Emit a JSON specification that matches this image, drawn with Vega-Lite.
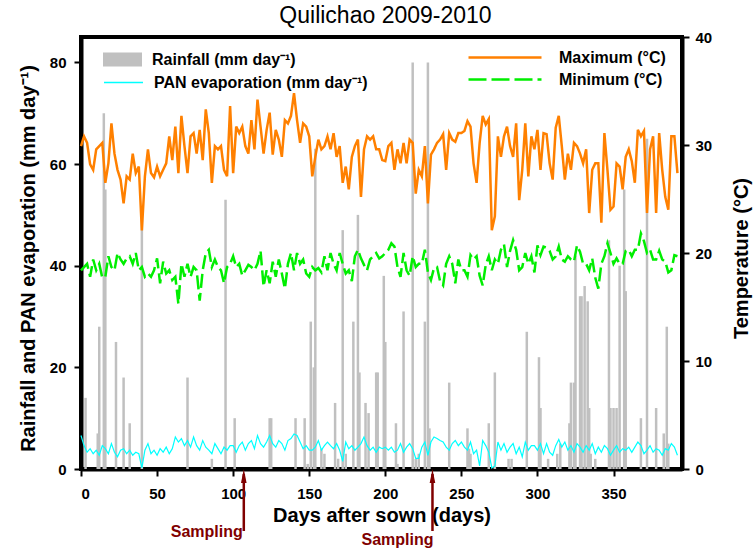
{
  "$schema": "https://vega.github.io/schema/vega-lite/v6.json",
  "width": 601,
  "height": 432,
  "autosize": {"type": "none"},
  "padding": {"left": 81, "top": 37, "right": 74, "bottom": 81},
  "background": "white",
  "title": {"text": "Quilichao 2009-2010", "fontSize": 23, "fontWeight": "normal", "color": "black", "anchor": "middle", "offset": 2, "dx": 4, "font": "Liberation Sans"},
  "config": {
    "font": "Liberation Sans",
    "view": {"stroke": "black", "strokeWidth": 4},
    "axis": {"grid": false, "domainColor": "black", "domainWidth": 4, "tickColor": "black", "tickWidth": 2, "tickSize": 7, "labelColor": "black", "labelFontSize": 15, "labelFontWeight": "bold", "titleColor": "black", "titleFontSize": 20, "titleFontWeight": "bold"}
  },
  "datasets": {
    "daily": [
      {"day":0,"tmax":29.9,"tmin":18.4,"pan":6.6},{"day":2,"tmax":30.8,"tmin":18.7,"pan":4.6},{"day":4,"tmax":30.2,"tmin":19.0,"pan":3.3},{"day":6,"tmax":28.2,"tmin":17.8,"pan":4.0},{"day":8,"tmax":27.7,"tmin":19.4,"pan":3.0},{"day":10,"tmax":29.6,"tmin":18.4,"pan":3.7},{"day":12,"tmax":29.9,"tmin":19.0,"pan":2.7},{"day":14,"tmax":30.2,"tmin":17.7,"pan":4.6},{"day":16,"tmax":26.5,"tmin":17.8,"pan":4.0},{"day":18,"tmax":28.3,"tmin":19.7,"pan":3.0},
      {"day":20,"tmax":32.0,"tmin":18.7,"pan":5.0},{"day":22,"tmax":29.2,"tmin":18.4,"pan":3.3},{"day":24,"tmax":27.7,"tmin":20.0,"pan":2.4},{"day":26,"tmax":26.8,"tmin":19.4,"pan":3.7},{"day":28,"tmax":24.6,"tmin":19.0,"pan":4.0},{"day":30,"tmax":27.1,"tmin":19.5,"pan":3.0},{"day":32,"tmax":26.8,"tmin":19.7,"pan":3.7},{"day":34,"tmax":29.2,"tmin":19.0,"pan":2.7},{"day":36,"tmax":27.4,"tmin":20.0,"pan":3.3},{"day":38,"tmax":28.0,"tmin":18.4,"pan":3.0},
      {"day":40,"tmax":22.1,"tmin":18.7,"pan":0.2},{"day":42,"tmax":27.1,"tmin":17.8,"pan":3.7},{"day":44,"tmax":29.6,"tmin":18.1,"pan":5.0},{"day":46,"tmax":27.4,"tmin":17.8,"pan":3.0},{"day":48,"tmax":27.0,"tmin":18.4,"pan":3.7},{"day":50,"tmax":28.0,"tmin":19.5,"pan":2.7},{"day":52,"tmax":27.1,"tmin":17.2,"pan":4.0},{"day":54,"tmax":27.7,"tmin":19.2,"pan":3.3},{"day":56,"tmax":28.3,"tmin":18.1,"pan":4.3},{"day":58,"tmax":30.8,"tmin":18.4,"pan":3.0},
      {"day":60,"tmax":28.6,"tmin":17.5,"pan":4.0},{"day":62,"tmax":31.7,"tmin":17.8,"pan":6.3},{"day":64,"tmax":27.4,"tmin":15.3,"pan":5.3},{"day":66,"tmax":32.7,"tmin":19.0,"pan":6.0},{"day":68,"tmax":29.9,"tmin":17.8,"pan":4.6},{"day":70,"tmax":27.4,"tmin":19.0,"pan":5.6},{"day":72,"tmax":30.8,"tmin":17.8,"pan":4.3},{"day":74,"tmax":31.1,"tmin":18.7,"pan":6.3},{"day":76,"tmax":29.2,"tmin":18.4,"pan":4.6},{"day":78,"tmax":31.4,"tmin":15.6,"pan":3.7},
      {"day":80,"tmax":28.6,"tmin":18.4,"pan":5.6},{"day":82,"tmax":33.3,"tmin":20.0,"pan":4.3},{"day":84,"tmax":31.1,"tmin":20.3,"pan":3.7},{"day":86,"tmax":26.5,"tmin":18.7,"pan":3.0},{"day":88,"tmax":29.9,"tmin":19.4,"pan":5.0},{"day":90,"tmax":29.6,"tmin":18.7,"pan":4.0},{"day":92,"tmax":29.9,"tmin":18.4,"pan":3.0},{"day":94,"tmax":27.7,"tmin":17.2,"pan":4.3},{"day":96,"tmax":27.1,"tmin":18.7,"pan":3.7},{"day":98,"tmax":33.6,"tmin":19.0,"pan":4.6},
      {"day":100,"tmax":27.4,"tmin":19.7,"pan":4.6},{"day":102,"tmax":31.7,"tmin":18.7,"pan":3.3},{"day":104,"tmax":31.1,"tmin":19.0,"pan":4.6},{"day":106,"tmax":31.7,"tmin":17.9,"pan":5.3},{"day":108,"tmax":29.9,"tmin":18.4,"pan":3.7},{"day":110,"tmax":29.2,"tmin":18.9,"pan":5.0},{"day":112,"tmax":32.3,"tmin":18.7,"pan":5.6},{"day":114,"tmax":29.6,"tmin":18.4,"pan":4.0},{"day":116,"tmax":34.2,"tmin":19.0,"pan":6.6},{"day":118,"tmax":31.7,"tmin":20.2,"pan":5.0},
      {"day":120,"tmax":29.2,"tmin":16.9,"pan":4.3},{"day":122,"tmax":31.4,"tmin":18.4,"pan":5.3},{"day":124,"tmax":33.0,"tmin":17.2,"pan":6.6},{"day":126,"tmax":29.1,"tmin":19.2,"pan":5.0},{"day":128,"tmax":31.4,"tmin":17.8,"pan":4.3},{"day":130,"tmax":30.5,"tmin":19.4,"pan":5.6},{"day":132,"tmax":28.9,"tmin":18.1,"pan":5.0},{"day":134,"tmax":32.3,"tmin":16.7,"pan":3.7},{"day":136,"tmax":32.0,"tmin":19.0,"pan":5.6},{"day":138,"tmax":32.7,"tmin":20.0,"pan":6.0},
      {"day":140,"tmax":34.8,"tmin":18.4,"pan":6.9},{"day":142,"tmax":32.3,"tmin":20.0,"pan":6.6},{"day":144,"tmax":30.2,"tmin":19.0,"pan":5.3},{"day":146,"tmax":32.0,"tmin":19.4,"pan":4.0},{"day":148,"tmax":31.7,"tmin":18.1,"pan":4.6},{"day":150,"tmax":30.8,"tmin":17.8,"pan":3.7},{"day":152,"tmax":27.1,"tmin":18.7,"pan":3.7},{"day":154,"tmax":28.9,"tmin":18.4,"pan":4.3},{"day":156,"tmax":30.5,"tmin":18.6,"pan":5.6},{"day":158,"tmax":29.6,"tmin":18.2,"pan":3.7},
      {"day":160,"tmax":29.9,"tmin":19.7,"pan":4.6},{"day":162,"tmax":30.8,"tmin":18.4,"pan":5.3},{"day":164,"tmax":29.6,"tmin":20.0,"pan":4.6},{"day":166,"tmax":31.1,"tmin":19.0,"pan":4.0},{"day":168,"tmax":28.9,"tmin":18.4,"pan":5.0},{"day":170,"tmax":29.9,"tmin":20.0,"pan":3.7},{"day":172,"tmax":26.5,"tmin":19.0,"pan":1.5},{"day":174,"tmax":28.0,"tmin":18.1,"pan":5.3},{"day":176,"tmax":25.9,"tmin":18.4,"pan":4.0},{"day":178,"tmax":28.9,"tmin":17.4,"pan":4.6},
      {"day":180,"tmax":29.9,"tmin":19.7,"pan":3.7},{"day":182,"tmax":30.5,"tmin":20.3,"pan":4.3},{"day":184,"tmax":25.2,"tmin":19.5,"pan":5.0},{"day":186,"tmax":29.6,"tmin":18.9,"pan":6.3},{"day":188,"tmax":30.8,"tmin":18.4,"pan":4.6},{"day":190,"tmax":30.5,"tmin":19.4,"pan":3.7},{"day":192,"tmax":30.8,"tmin":19.7,"pan":4.3},{"day":194,"tmax":29.6,"tmin":20.0,"pan":3.3},{"day":196,"tmax":29.6,"tmin":19.5,"pan":4.3},{"day":198,"tmax":28.6,"tmin":19.7,"pan":4.0},
      {"day":200,"tmax":28.5,"tmin":20.0,"pan":4.3},{"day":202,"tmax":29.9,"tmin":20.3,"pan":3.7},{"day":204,"tmax":30.2,"tmin":20.9,"pan":4.3},{"day":206,"tmax":27.7,"tmin":20.6,"pan":3.3},{"day":208,"tmax":29.6,"tmin":18.7,"pan":3.7},{"day":210,"tmax":28.3,"tmin":17.8,"pan":5.0},{"day":212,"tmax":30.2,"tmin":20.0,"pan":3.3},{"day":214,"tmax":28.3,"tmin":18.4,"pan":4.3},{"day":216,"tmax":30.5,"tmin":17.9,"pan":5.0},{"day":218,"tmax":30.2,"tmin":19.7,"pan":4.0},
      {"day":220,"tmax":25.5,"tmin":18.7,"pan":2.1},{"day":222,"tmax":27.7,"tmin":19.0,"pan":2.1},{"day":224,"tmax":27.1,"tmin":19.0,"pan":4.3},{"day":226,"tmax":29.9,"tmin":20.3,"pan":5.3},{"day":228,"tmax":24.6,"tmin":18.2,"pan":2.7},{"day":230,"tmax":29.1,"tmin":17.5,"pan":5.3},{"day":232,"tmax":29.6,"tmin":18.6,"pan":6.3},{"day":234,"tmax":30.2,"tmin":18.7,"pan":6.0},{"day":236,"tmax":30.5,"tmin":17.4,"pan":5.6},{"day":238,"tmax":31.0,"tmin":17.0,"pan":5.3},
      {"day":240,"tmax":27.7,"tmin":19.0,"pan":4.3},{"day":242,"tmax":31.1,"tmin":19.7,"pan":3.7},{"day":244,"tmax":30.5,"tmin":19.0,"pan":5.0},{"day":246,"tmax":30.3,"tmin":17.2,"pan":5.6},{"day":248,"tmax":31.1,"tmin":19.4,"pan":4.6},{"day":250,"tmax":31.1,"tmin":18.4,"pan":5.3},{"day":252,"tmax":31.3,"tmin":18.4,"pan":4.3},{"day":254,"tmax":32.2,"tmin":17.8,"pan":3.7},{"day":256,"tmax":31.7,"tmin":19.8,"pan":5.3},{"day":258,"tmax":28.3,"tmin":19.4,"pan":3.0},
      {"day":260,"tmax":26.5,"tmin":19.7,"pan":3.7},{"day":262,"tmax":30.2,"tmin":17.9,"pan":0.6},{"day":264,"tmax":32.7,"tmin":17.0,"pan":5.6},{"day":266,"tmax":31.9,"tmin":18.9,"pan":4.6},{"day":268,"tmax":32.4,"tmin":19.7,"pan":3.3},{"day":270,"tmax":22.1,"tmin":18.4,"pan":0.2},{"day":272,"tmax":23.4,"tmin":19.4,"pan":0.6},{"day":274,"tmax":30.8,"tmin":19.0,"pan":5.3},{"day":276,"tmax":28.9,"tmin":20.3,"pan":3.7},{"day":278,"tmax":30.8,"tmin":20.8,"pan":5.0},
      {"day":280,"tmax":31.7,"tmin":18.7,"pan":3.3},{"day":282,"tmax":29.9,"tmin":20.2,"pan":4.3},{"day":284,"tmax":28.9,"tmin":21.2,"pan":5.0},{"day":286,"tmax":32.0,"tmin":20.3,"pan":3.0},{"day":288,"tmax":24.9,"tmin":18.4,"pan":4.3},{"day":290,"tmax":27.7,"tmin":18.7,"pan":2.4},{"day":292,"tmax":32.0,"tmin":20.0,"pan":5.3},{"day":294,"tmax":27.1,"tmin":19.0,"pan":3.7},{"day":296,"tmax":30.8,"tmin":19.7,"pan":4.6},{"day":298,"tmax":29.6,"tmin":18.2,"pan":4.6},
      {"day":300,"tmax":31.4,"tmin":20.7,"pan":3.7},{"day":302,"tmax":27.7,"tmin":19.8,"pan":5.0},{"day":304,"tmax":31.1,"tmin":20.6,"pan":3.0},{"day":306,"tmax":31.0,"tmin":20.5,"pan":5.0},{"day":308,"tmax":28.3,"tmin":20.2,"pan":3.3},{"day":310,"tmax":26.8,"tmin":19.4,"pan":2.7},{"day":312,"tmax":31.6,"tmin":19.7,"pan":4.6},{"day":314,"tmax":32.7,"tmin":20.6,"pan":5.8},{"day":316,"tmax":29.9,"tmin":19.4,"pan":4.3},{"day":318,"tmax":26.8,"tmin":19.2,"pan":5.3},
      {"day":320,"tmax":29.2,"tmin":19.7,"pan":3.7},{"day":322,"tmax":27.7,"tmin":19.4,"pan":4.6},{"day":324,"tmax":30.2,"tmin":19.2,"pan":3.3},{"day":326,"tmax":29.9,"tmin":20.7,"pan":5.0},{"day":328,"tmax":29.2,"tmin":20.1,"pan":4.3},{"day":330,"tmax":28.3,"tmin":19.0,"pan":3.3},{"day":332,"tmax":29.6,"tmin":19.0,"pan":4.6},{"day":334,"tmax":23.7,"tmin":18.4,"pan":3.7},{"day":336,"tmax":27.7,"tmin":19.5,"pan":5.0},{"day":338,"tmax":28.3,"tmin":17.7,"pan":3.0},
      {"day":340,"tmax":28.3,"tmin":16.7,"pan":4.3},{"day":342,"tmax":22.8,"tmin":19.0,"pan":3.3},{"day":344,"tmax":31.1,"tmin":19.7,"pan":4.6},{"day":346,"tmax":27.7,"tmin":20.9,"pan":4.0},{"day":348,"tmax":24.0,"tmin":20.0,"pan":2.7},{"day":350,"tmax":24.3,"tmin":19.0,"pan":3.7},{"day":352,"tmax":28.3,"tmin":19.5,"pan":4.6},{"day":354,"tmax":28.0,"tmin":19.0,"pan":3.3},{"day":356,"tmax":25.9,"tmin":19.0,"pan":4.0},{"day":358,"tmax":28.9,"tmin":20.2,"pan":3.7},
      {"day":360,"tmax":29.6,"tmin":20.3,"pan":4.3},{"day":362,"tmax":28.5,"tmin":19.7,"pan":3.3},{"day":364,"tmax":26.5,"tmin":20.3,"pan":4.3},{"day":366,"tmax":31.4,"tmin":20.3,"pan":5.3},{"day":368,"tmax":30.8,"tmin":21.8,"pan":4.6},{"day":370,"tmax":31.3,"tmin":21.1,"pan":3.0},{"day":372,"tmax":23.7,"tmin":20.0,"pan":3.7},{"day":374,"tmax":29.6,"tmin":20.3,"pan":4.6},{"day":376,"tmax":30.8,"tmin":19.4,"pan":3.3},{"day":378,"tmax":23.7,"tmin":19.4,"pan":4.0},
      {"day":380,"tmax":31.1,"tmin":20.2,"pan":3.7},{"day":382,"tmax":27.7,"tmin":19.4,"pan":2.7},{"day":384,"tmax":25.2,"tmin":19.2,"pan":4.0},{"day":386,"tmax":24.0,"tmin":18.2,"pan":3.7},{"day":388,"tmax":30.8,"tmin":18.4,"pan":5.0},{"day":390,"tmax":30.8,"tmin":19.8,"pan":4.3},{"day":392,"tmax":27.4,"tmin":19.7,"pan":2.7}
    ],
    "rain": [
      {"day":3,"rain":14},{"day":11,"rain":7},{"day":12,"rain":28},{"day":15,"rain":70},{"day":16,"rain":55},{"day":23,"rain":25},{"day":28,"rain":18},{"day":32,"rain":9},{"day":40,"rain":50},{"day":70,"rain":18},
      {"day":86,"rain":2},{"day":95,"rain":53},{"day":101,"rain":10},{"day":124,"rain":10},{"day":125,"rain":10},{"day":141,"rain":10},{"day":147,"rain":10},{"day":149,"rain":1},{"day":151,"rain":29},{"day":153,"rain":20},
      {"day":154,"rain":63},{"day":158,"rain":4},{"day":160,"rain":3},{"day":167,"rain":13},{"day":169,"rain":2},{"day":172,"rain":47},{"day":174,"rain":3},{"day":179,"rain":29},{"day":182,"rain":50},{"day":183,"rain":19},
      {"day":187,"rain":13},{"day":189,"rain":11},{"day":194,"rain":19},{"day":195,"rain":19},{"day":199,"rain":38},{"day":200,"rain":25},{"day":207,"rain":9},{"day":208,"rain":1},{"day":212,"rain":31},{"day":218,"rain":80},
      {"day":220,"rain":2},{"day":222,"rain":3},{"day":226,"rain":29},{"day":228,"rain":80},{"day":229,"rain":8},{"day":242,"rain":17},{"day":254,"rain":8},{"day":255,"rain":4},{"day":256,"rain":3},{"day":268,"rain":9},
      {"day":272,"rain":19},{"day":281,"rain":2},{"day":283,"rain":2},{"day":293,"rain":27},{"day":301,"rain":22},{"day":302,"rain":12},{"day":307,"rain":2},{"day":313,"rain":3},{"day":315,"rain":5},{"day":321,"rain":9},
      {"day":322,"rain":17},{"day":324,"rain":17},{"day":325,"rain":42},{"day":328,"rain":34},{"day":329,"rain":34},{"day":331,"rain":36},{"day":333,"rain":33},{"day":334,"rain":12},{"day":335,"rain":3},{"day":338,"rain":2},
      {"day":347,"rain":45},{"day":348,"rain":12},{"day":350,"rain":12},{"day":352,"rain":12},{"day":354,"rain":40},{"day":357,"rain":55},{"day":358,"rain":35},{"day":368,"rain":10},{"day":372,"rain":65},{"day":378,"rain":12},
      {"day":383,"rain":7},{"day":385,"rain":28},{"day":386,"rain":5}
    ],
    "samp": [{"day":107,"label":"Sampling"},{"day":231,"label":"Sampling"}]
  },
  "layer": [
    {
      "layer": [
        {
          "data": {"name": "rain"},
          "mark": {"type": "bar", "size": 2.5},
          "encoding": {
            "x": {"field": "day", "type": "quantitative", "scale": {"domain": [0, 395], "nice": false, "zero": false, "padding": 0},
                  "axis": {"values": [0,50,100,150,200,250,300,350], "title": "Days after sown (days)", "labelPadding": 10, "titlePadding": 4}},
            "y": {"field": "rain", "type": "quantitative", "scale": {"domain": [0, 85], "nice": false},
                  "axis": {"orient": "left", "values": [0,20,40,60,80], "title": "Rainfall and PAN evaporation (mm day⁻¹)", "labelPadding": 8, "titleAngle": 270, "titleX": -53, "titleY": 221, "titleAlign": "center", "titleBaseline": "middle"}},
            "fill": {"datum": "Rainfall (mm day⁻¹)", "type": "nominal", "scale": {"range": ["#c0c0c0"]},
                     "legend": {"orient": "none", "legendX": 22, "legendY": 11.5, "title": null, "symbolType": "M-1,-0.36L1,-0.36L1,0.36L-1,0.36Z", "symbolSize": 1521, "symbolStrokeWidth": 0, "labelFontSize": 16, "labelFontWeight": "bold", "labelColor": "black", "labelOffset": 10, "clipHeight": 22, "labelLimit": 400}}
          }
        },
        {
          "data": {"name": "daily"},
          "mark": {"type": "line", "strokeWidth": 1.2},
          "encoding": {
            "x": {"field": "day", "type": "quantitative"},
            "y": {"field": "pan", "type": "quantitative"},
            "stroke": {"datum": "PAN evaporation (mm day⁻¹)", "type": "nominal", "scale": {"range": ["#00ffff"]},
                       "legend": {"orient": "none", "legendX": 22, "legendY": 34.5, "title": null, "symbolType": "stroke", "symbolSize": 1521, "symbolStrokeWidth": 1.5, "labelFontSize": 16, "labelFontWeight": "bold", "labelColor": "black", "labelOffset": 10, "clipHeight": 22, "labelLimit": 400}}
          }
        },
        {
          "data": {"name": "samp"},
          "mark": {"type": "rule", "color": "#800000", "strokeWidth": 2.5, "clip": false},
          "encoding": {
            "x": {"field": "day", "type": "quantitative"},
            "y": {"datum": -1},
            "y2": {"datum": -12.2}
          }
        },
        {
          "data": {"name": "samp"},
          "mark": {"type": "point", "shape": "M0,-1L0.4,1L-0.4,1Z", "size": 196, "filled": true, "color": "#800000", "opacity": 1, "clip": false},
          "encoding": {
            "x": {"field": "day", "type": "quantitative"},
            "y": {"datum": -1.38}
          }
        },
        {
          "data": {"name": "samp"},
          "transform": [{"filter": "datum.day < 200"}],
          "mark": {"type": "text", "align": "right", "baseline": "middle", "fontSize": 16, "fontWeight": "bold", "color": "#800000", "dx": -1, "clip": false},
          "encoding": {
            "x": {"field": "day", "type": "quantitative"},
            "y": {"datum": -12.4},
            "text": {"field": "label"}
          }
        },
        {
          "data": {"name": "samp"},
          "transform": [{"filter": "datum.day > 200"}],
          "mark": {"type": "text", "align": "right", "baseline": "middle", "fontSize": 16, "fontWeight": "bold", "color": "#800000", "dx": 1, "clip": false},
          "encoding": {
            "x": {"field": "day", "type": "quantitative"},
            "y": {"datum": -14.0},
            "text": {"field": "label"}
          }
        }
      ]
    },
    {
      "data": {"name": "daily"},
      "layer": [
        {
          "mark": {"type": "line", "strokeWidth": 2.5},
          "encoding": {
            "x": {"field": "day", "type": "quantitative"},
            "y": {"field": "tmax", "type": "quantitative", "scale": {"domain": [0, 40], "nice": false},
                  "axis": {"orient": "right", "values": [0,10,20,30,40], "title": "Temperature (°C)", "labelPadding": 6, "titleAngle": 270, "titleX": 59, "titleY": 221, "titleAlign": "center", "titleBaseline": "middle"}},
            "stroke": {"datum": "Maximum (°C)", "type": "nominal", "scale": {"domain": ["Maximum (°C)", "Minimum  (°C)"], "range": ["#ff8000", "#00ee00"]},
                       "legend": {"orient": "none", "legendX": 386, "legendY": 10.5, "title": null, "symbolType": "stroke", "symbolSize": 5329, "symbolStrokeWidth": 2.5, "labelFontSize": 16, "labelFontWeight": "bold", "labelColor": "black", "labelOffset": 16, "clipHeight": 20, "rowPadding": 2, "labelLimit": 400,
                                  "encode": {"symbols": {"update": {"strokeDash": {"signal": "datum.index == 1 ? [18, 5] : [1, 0]"}}}}}}
          }
        },
        {
          "mark": {"type": "line", "strokeWidth": 2.5, "strokeDash": [14, 5]},
          "encoding": {
            "x": {"field": "day", "type": "quantitative"},
            "y": {"field": "tmin", "type": "quantitative"},
            "stroke": {"datum": "Minimum  (°C)", "type": "nominal"}
          }
        }
      ]
    }
  ],
  "resolve": {"scale": {"y": "independent", "stroke": "independent"}}
}
